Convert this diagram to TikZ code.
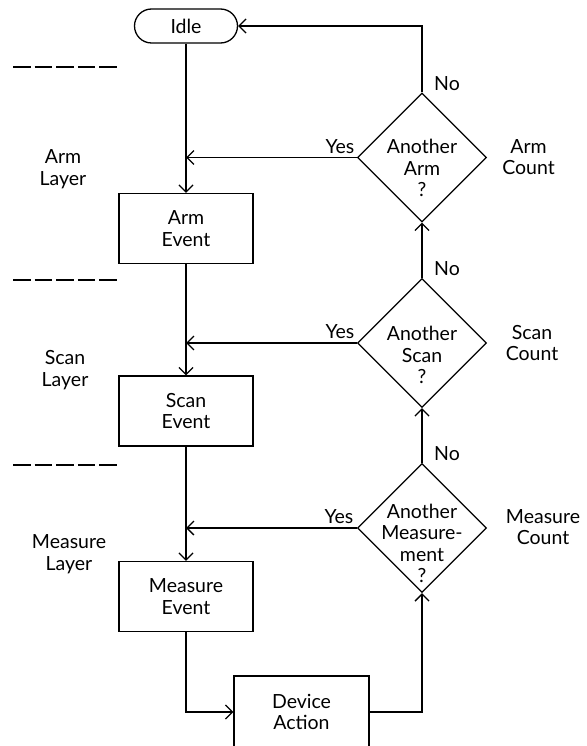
\documentclass[tikz,border=0pt]{standalone}
\usepackage{fontspec}
\setmainfont{Lato}
\usetikzlibrary{arrows.meta,shapes.geometric}
\begin{document}
\begin{tikzpicture}[x=1pt,y=-1pt,
  font=\fontsize{19.5}{21.5}\selectfont,
  line width=1.3pt,
  arr/.style={-{Straight Barb[length=7pt,width=14pt]}},
  box/.style={draw,rectangle,minimum width=134pt,minimum height=70pt,inner sep=0pt,align=center},
  dia/.style={draw,diamond,minimum width=129pt,minimum height=129pt,inner sep=0pt},
  txt/.style={inner sep=0pt,align=center},
  sep/.style={dash pattern=on 17.6pt off 4pt}]
\useasboundingbox (0,0) rectangle (586,746);
% nodes
\node[draw,rectangle,rounded corners=17pt,minimum width=103pt,minimum height=34pt,inner sep=0pt] (idle) at (186,26) {Idle};
\node[box] (armev) at (186,228.5) {Arm\\Event};
\node[box] (scanev) at (186,411) {Scan\\Event};
\node[box] (measev) at (186,596.5) {Measure\\Event};
\node[box,minimum width=135pt,minimum height=72pt] (dev) at (301.5,712) {Device\\Action};
\node[dia] (d1) at (422,157.5) {};
\node[dia] (d2) at (422,343) {};
\node[dia] (d3) at (422,528) {};
\node[txt] (d1t) at (422,168) {Another\\Arm\\?};
\node[txt] (d2t) at (422,355) {Another\\Scan\\?};
\node[txt] (d3t) at (422,543.5) {Another\\Measure-\\ment\\?};
% side labels
\node[txt] (l1) at (63,169) {Arm\\Layer};
\node[txt] (l2) at (65,370) {Scan\\Layer};
\node[txt] (l3) at (69,554) {Measure\\Layer};
\node[txt] (c1) at (528.5,157) {Arm\\Count};
\node[txt] (c2) at (532,343) {Scan\\Count};
\node[txt] (c3) at (543,527) {Measure\\Count};
\node[txt] (y1) at (340,147) {Yes};
\node[txt] (y2) at (340,332) {Yes};
\node[txt] (y3) at (339,517) {Yes};
\node[txt] (n1) at (447,84) {No};
\node[txt] (n2) at (447,269) {No};
\node[txt] (n3) at (447,454) {No};
% layer separators
\draw[sep] (13,67) -- (117,67);
\draw[sep] (13,280) -- (117,280);
\draw[sep] (13,465) -- (117,465);
% connectors
\draw[arr] (idle.south) -- (armev.north);
\draw[arr] (armev.south) -- (scanev.north);
\draw[arr] (scanev.south) -- (measev.north);
\draw[arr] (measev.south) |- (dev.west);
\draw[arr] (dev.east) -| (d3.south);
\draw[arr] (d3.north) -- (d2.south);
\draw[arr] (d2.north) -- (d1.south);
\draw[arr] (d1.north) |- (idle.east);
\draw[arr] (d1.west) -- (d1.west -| armev.north);
\draw[arr] (d2.west) -- (d2.west -| scanev.north);
\draw[arr] (d3.west) -- (d3.west -| measev.north);
\end{tikzpicture}
\end{document}
